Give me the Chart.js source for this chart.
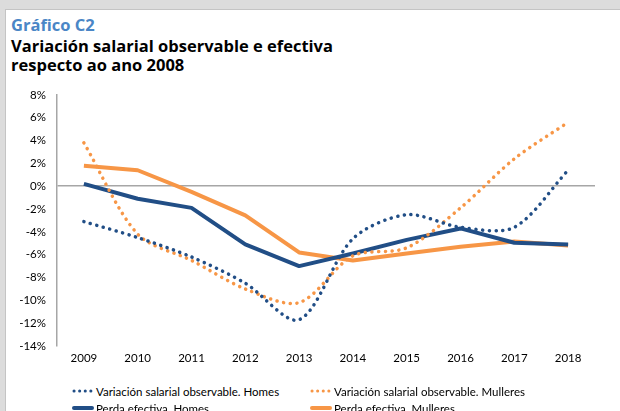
<!DOCTYPE html>
<html>
<head>
<meta charset="utf-8">
<script src="https://cdn.jsdelivr.net/npm/chart.js@4"></script>
<style>
  html, body { margin: 0; padding: 0; }
  body { width: 620px; height: 411px; background: #dcdcdc; overflow: hidden; position: relative; font-family: Lato, "Open Sans", sans-serif; }
  .panel { position: absolute; left: 5px; top: 9px; right: 0; bottom: 0; background: #fff; border-left: 1px solid #c4c4c4; border-top: 1px solid #c4c4c4; }
  .kicker, .title { position: absolute; left: 5px; font-family: "Open Sans", sans-serif; font-weight: bold; font-variant-ligatures: none; font-size: 16.5px; }
  .kicker { top: 3px; color: #4a86c6; }
  .title { top: 26px; color: #000; line-height: 19px; }
  #wrap { position: absolute; left: 0; top: 77px; width: 620px; height: 293px; }
  #legend { position: absolute; left: 0; top: 383px; width: 620px; font-size: 11.5px; color: #000; }
  .item { position: absolute; display: flex; align-items: center; height: 16px; }
  .item canvas { margin-right: 2px; }
</style>
</head>
<body>
<div class="panel">
  <div class="kicker">Gráfico C2</div>
  <div class="title">Variación salarial observable e efectiva<br>respecto ao ano 2008</div>
</div>
<div id="wrap"><canvas id="myChart" width="620" height="293"></canvas></div>
<div id="legend"></div>
<script>
'use strict'

var years = ['2009', '2010', '2011', '2012', '2013', '2014', '2015', '2016', '2017', '2018'];

// variación observable, en %
var obsHomes = [-3.1, -4.5, -6.2, -8.5, -11.7, -4.6, -2.5, -3.6, -3.6, 1.4];
var obsMulleres = [3.8, -4.2, -6.5, -9.0, -10.2, -6.1, -5.4, -1.9, 2.4, 5.6];

// perda efectiva, en %
var efHomes = [0.2, -1.1, -1.9, -5.1, -7.0, -5.9, -4.7, -3.7, -4.95, -5.1];
var efMulleres = [1.8, 1.4, -0.5, -2.55, -5.8, -6.5, -5.9, -5.3, -4.85, -5.2];

var yTicks = [8, 6, 4, 2, 0, -2, -4, -6, -8, -10, -12, -14];

var blue = '#214e86';
var orange = '#f79646';

function dotted(label, data, color) {
  return {
    label: label,
    data: data,
    borderColor: color,
    backgroundColor: color,
    borderWidth: 3.5,
    borderDash: [0.1, 6.6],
    borderCapStyle: 'round',
    tension: 0.3,
    pointRadius: 0,
    fill: false
  };
}

function solid(label, data, color) {
  return {
    label: label,
    data: data,
    borderColor: color,
    backgroundColor: color,
    borderWidth: 4,
    borderJoinStyle: 'round',
    tension: 0,
    pointRadius: 0,
    fill: false
  };
}

var ctx = document.getElementById('myChart');

var chart = new Chart(ctx, {
  type: 'line',
  data: {
    labels: years,
    datasets: [
      dotted('Variación salarial observable. Homes', obsHomes, blue),
      dotted('Variación salarial observable. Mulleres', obsMulleres, orange),
      solid('Perda efectiva. Homes', efHomes, blue),
      solid('Perda efectiva. Mulleres', efMulleres, orange)
    ]
  },
  options: {
    responsive: false,
    animation: false,
    layout: { padding: { left: 0, right: 25, top: 9, bottom: 0 } },
    plugins: {
      legend: { display: false },
      tooltip: { enabled: false }
    },
    scales: {
      x: {
        offset: true,
        grid: { display: false, drawTicks: false },
        border: { display: false },
        ticks: { color: '#000', font: { family: 'Lato', size: 11.5 }, padding: 5, maxRotation: 0 },
        afterFit: function(scale) { scale.height = 24; }
      },
      y: {
        min: -14,
        max: 8,
        afterBuildTicks: function(scale) {
          scale.ticks = yTicks.map(function(v) { return { value: v }; });
        },
        grid: {
          drawTicks: false,
          color: function(c) { return c.tick && c.tick.value === 0 ? '#a6a6a6' : 'rgba(0,0,0,0)'; },
          lineWidth: 1.5
        },
        border: { display: true, color: '#a6a6a6', width: 1.5 },
        ticks: {
          color: '#000',
          font: { family: 'Lato', size: 11.5 },
          padding: 11,
          callback: function(v) { return v + '%'; }
        },
        afterFit: function(scale) { scale.width = 57; }
      }
    }
  }
});

// leyenda en dos columnas
var legendPos = [[72, 0], [310, 0], [72, 17], [310, 17]];
var legendBox = document.getElementById('legend');
chart.data.datasets.forEach(function(ds, i) {
  var item = document.createElement('div');
  item.className = 'item';
  item.style.left = legendPos[i][0] + 'px';
  item.style.top = legendPos[i][1] + 'px';
  var sample = document.createElement('canvas');
  sample.width = 22;
  sample.height = 16;
  var g = sample.getContext('2d');
  g.strokeStyle = ds.borderColor;
  g.lineCap = 'round';
  g.lineWidth = ds.borderDash ? 3 : 4;
  if (ds.borderDash) g.setLineDash([0.1, 5.5]);
  g.beginPath();
  g.moveTo(2, 8);
  g.lineTo(20, 8);
  g.stroke();
  item.appendChild(sample);
  var txt = document.createElement('span');
  txt.textContent = ds.label;
  item.appendChild(txt);
  legendBox.appendChild(item);
});
</script>
</body>
</html>
